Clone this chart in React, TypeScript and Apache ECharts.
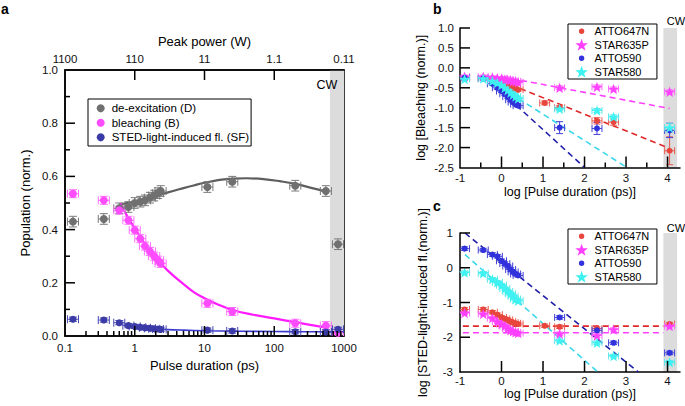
import React, { useEffect, useRef } from 'react';
import * as echarts from 'echarts';

const FONT = '"Liberation Sans", Arial, Helvetica, sans-serif';

// ---------- Panel a ----------
const A_DURATION = [0.13, 0.36, 0.6, 0.81, 1.0, 1.2, 1.4, 1.65, 1.9, 2.15, 2.35, 11, 25, 200, 550, 820];
const A_DEEXC = [0.43, 0.44, 0.48, 0.485, 0.5, 0.505, 0.51, 0.52, 0.528, 0.537, 0.545, 0.56, 0.58, 0.565, 0.545, 0.345];
const A_BLEACH = [0.535, 0.51, 0.473, 0.435, 0.398, 0.366, 0.338, 0.318, 0.3, 0.285, 0.273, 0.123, 0.092, 0.048, 0.039, 0.012];
const A_SF = [0.063, 0.06, 0.05, 0.039, 0.036, 0.033, 0.031, 0.029, 0.027, 0.026, 0.025, 0.022, 0.019, 0.016, 0.015, 0.025];
const A_ERR_D = 0.02;
const A_ERR_B = 0.015;
const A_ERR_SF = 0.008;
const A_XERR_FACTOR = 1.2;

const A_FIT_D_X = [0.62, 1, 1.5, 2, 3, 5, 7, 10, 15, 25, 40, 70, 120, 200, 350, 600];
const A_FIT_D = [0.495, 0.505, 0.515, 0.525, 0.54, 0.556, 0.566, 0.576, 0.585, 0.592, 0.593, 0.59, 0.582, 0.572, 0.556, 0.541];
const A_FIT_B_X = [0.62, 0.8, 1, 1.5, 2, 3, 5, 7, 10, 15, 25, 50, 100, 200, 400, 600];
const A_FIT_B = [0.5, 0.445, 0.405, 0.335, 0.293, 0.245, 0.195, 0.165, 0.142, 0.12, 0.098, 0.08, 0.066, 0.052, 0.038, 0.031];
const A_FIT_SF_X = [0.7, 1, 1.5, 2, 3, 5, 10, 30, 100, 300, 1000];
const A_FIT_SF = [0.04, 0.035, 0.03, 0.027, 0.024, 0.022, 0.02, 0.018, 0.017, 0.016, 0.016];
const A_CW_BAND = [630, 1000];
const A_NAMES = ['de-excitation (D)', 'bleaching (B)', 'STED-light-induced fl. (SF)'];

const A_X_MAJOR_TICKS = [1, 10, 100];
const A_X_MINOR_TICKS = [0.2, 0.3, 0.4, 0.5, 0.6, 0.7, 0.8, 0.9, 2, 3, 4, 5, 6, 7, 8, 9, 20, 30, 40, 50, 60, 70, 80, 90, 200, 300, 400, 500, 600, 700, 800, 900];
const A_Y_MAJOR_TICKS = [0.2, 0.4, 0.6, 0.8];
const A_Y_MINOR_TICKS = [0.1, 0.3, 0.5, 0.7, 0.9];

// ---------- Panels b and c (log10 pulse duration) ----------
const LOG_T = [-0.89, -0.44, -0.22, -0.1, 0, 0.08, 0.15, 0.22, 0.28, 0.34, 0.4, 1.04, 1.4, 2.3, 2.7, 4.05];
const DYES = ['ATTO647N', 'STAR635P', 'ATTO590', 'STAR580'];

const B_ATTO647N = [-0.25, -0.26, -0.3, -0.33, -0.36, -0.4, -0.43, -0.46, -0.5, -0.52, -0.55, -0.88, -1.0, -1.33, -1.36, -2.08];
const B_STAR635P = [-0.22, -0.22, -0.24, -0.26, -0.27, -0.29, -0.3, -0.31, -0.33, -0.34, -0.36, null, -0.5, -0.48, -0.53, -0.6];
const B_ATTO590 = [-0.25, -0.27, -0.4, -0.5, -0.58, -0.65, -0.72, -0.8, -0.86, -0.91, -0.95, null, -1.5, -1.52, null, -1.57];
const B_STAR580 = [-0.28, -0.27, -0.33, -0.38, -0.43, -0.5, -0.56, -0.62, -0.67, -0.72, -0.77, null, -1.03, -1.07, -1.23, -1.5];
const B_ERR_ATTO647N = [0.03, 0.03, 0.03, 0.03, 0.03, 0.03, 0.03, 0.03, 0.03, 0.03, 0.03, 0.05, 0.05, 0.08, 0.08, 0.35];
const B_ERR_STAR635P = [0.04, 0.04, 0.04, 0.04, 0.04, 0.04, 0.04, 0.04, 0.04, 0.04, 0.04, null, 0.05, 0.05, 0.05, 0.05];
const B_ERR_ATTO590 = [0.04, 0.04, 0.04, 0.04, 0.04, 0.04, 0.04, 0.04, 0.04, 0.04, 0.04, null, 0.15, 0.15, null, 0.18];
const B_ERR_STAR580 = [0.04, 0.04, 0.04, 0.04, 0.04, 0.04, 0.04, 0.04, 0.04, 0.04, 0.04, null, 0.05, 0.05, 0.05, 0.1];

const B_FIT_X_ATTO647N = [0, 4.05];
const B_FIT_ATTO647N = [-0.33, -2.02];
const B_FIT_X_STAR635P = [0, 4.05];
const B_FIT_STAR635P = [-0.22, -1.02];
const B_FIT_X_ATTO590 = [0, 2.0];
const B_FIT_ATTO590 = [-0.6, -2.5];
const B_FIT_X_STAR580 = [0, 3.02];
const B_FIT_STAR580 = [-0.5, -2.5];

const C_ATTO647N = [-1.2, -1.2, -1.28, -1.35, -1.43, -1.47, -1.5, -1.55, -1.58, -1.6, -1.62, -1.67, -1.7, -1.75, null, -1.62];
const C_STAR635P = [-1.3, -1.33, -1.45, -1.55, -1.62, -1.68, -1.75, -1.8, -1.83, -1.86, -1.88, null, -1.9, -1.95, -1.78, -1.68];
const C_ATTO590 = [0.55, 0.51, 0.38, 0.33, 0.2, 0.12, 0.05, -0.05, -0.12, -0.18, -0.22, null, -1.43, -1.8, -2.16, -2.45];
const C_STAR580 = [-0.14, -0.16, -0.33, -0.42, -0.5, -0.6, -0.68, -0.75, -0.82, -0.9, -0.95, null, -2.1, -2.16, -2.54, -2.72];
const C_ERR = 0.05;

const C_FIT_X_ATTO647N = [-0.93, 3.9];
const C_FIT_ATTO647N = [-1.68, -1.68];
const C_FIT_X_STAR635P = [-0.93, 3.9];
const C_FIT_STAR635P = [-1.87, -1.87];
const C_FIT_X_ATTO590 = [-0.88, 3.3];
const C_FIT_ATTO590 = [1.0, -3.0];
const C_FIT_X_STAR580 = [-0.88, 2.32];
const C_FIT_STAR580 = [0.38, -3.0];

const BC_XERR = 0.12;
const BC_CW_BAND = [3.9, 4.23];
const BC_X_MAJOR_TICKS = [0, 1, 2, 3, 4];
const B_X_MINOR_TICKS = [-0.5, 0.5, 1.5, 2.5, 3.5];
const B_Y_TICKS = [-2, -1.5, -1, -0.5, 0, 0.5, 1];
const C_Y_TICKS = [-2, -1, 0, 1];

// ---------- styles ----------
const STAR = 'path://M0,-10 L2.351,-3.236 L9.511,-3.09 L3.804,1.236 L5.878,8.09 L0,4 L-5.878,8.09 L-3.804,1.236 L-9.511,-3.09 L-2.351,-3.236 Z';
const SMALL_CIRCLE_ICON = 'path://M-10,-10 M10,10 M0,-4.5 A4.5,4.5 0 1 1 0,4.5 A4.5,4.5 0 1 1 0,-4.5 Z';
const DYE_COLORS = ['#e8453c', '#ff40ff', '#3232dc', '#3ef2f2'];
const DYE_ERR_COLORS = ['#ec5a52', '#ff6aff', '#4040d8', '#5ae6ea'];
const DYE_FIT_COLORS = ['#e02828', '#ff40ff', '#1e1eaa', '#3cd8ea'];
const DYE_SYMBOLS = ['circle', STAR, 'circle', STAR];
const DYE_SIZES = [6, 11, 6, 11];

const A_COLORS = ['#707070', '#ff4cff', '#3b3ba8'];
const A_ERR_COLORS = ['#7a7a7a', '#ff70ff', '#4646b4'];
const A_FIT_COLORS = ['#5e5e5e', '#ff1aff', '#3a3ad0'];

function pairs(xs: number[], ys: (number | null)[]) {
  const out: number[][] = [];
  xs.forEach((x, i) => {
    const y = ys[i];
    if (y !== null && y !== undefined) out.push([x, y]);
  });
  return out;
}

function errData(xs: number[], ys: (number | null)[], errs: (number | null)[] | number, logX: boolean, xe: number) {
  const out: number[][] = [];
  xs.forEach((x, i) => {
    const y = ys[i];
    if (y === null || y === undefined) return;
    const e = typeof errs === 'number' ? errs : (errs[i] ?? 0.04);
    const xl = logX ? x / xe : x - xe;
    const xh = logX ? x * xe : x + xe;
    out.push([x, y, xl, xh, y - e, y + e]);
  });
  return out;
}

function errSeries(name: string, data: number[][], color: string, xi: number, yi: number, cap: number) {
  return {
    type: 'custom',
    name,
    xAxisIndex: xi,
    yAxisIndex: yi,
    clip: true,
    silent: true,
    z: 3,
    data,
    renderItem: (params: any, api: any) => {
      const x = api.value(0);
      const y = api.value(1);
      const c = api.coord([x, y]);
      const l = api.coord([api.value(2), y]);
      const r = api.coord([api.value(3), y]);
      const b = api.coord([x, api.value(4)]);
      const t = api.coord([x, api.value(5)]);
      const st = { stroke: color, lineWidth: 1 };
      return {
        type: 'group',
        children: [
          { type: 'line', shape: { x1: l[0], y1: c[1], x2: r[0], y2: c[1] }, style: st },
          { type: 'line', shape: { x1: l[0], y1: c[1] - cap, x2: l[0], y2: c[1] + cap }, style: st },
          { type: 'line', shape: { x1: r[0], y1: c[1] - cap, x2: r[0], y2: c[1] + cap }, style: st },
          { type: 'line', shape: { x1: c[0], y1: b[1], x2: c[0], y2: t[1] }, style: st },
          { type: 'line', shape: { x1: c[0] - cap, y1: b[1], x2: c[0] + cap, y2: b[1] }, style: st },
          { type: 'line', shape: { x1: c[0] - cap, y1: t[1], x2: c[0] + cap, y2: t[1] }, style: st },
        ],
      };
    },
  };
}

function bandSeries(name: string, range: number[], xi: number, yi: number) {
  return {
    type: 'custom',
    name,
    xAxisIndex: xi,
    yAxisIndex: yi,
    silent: true,
    z: 0,
    data: [range],
    renderItem: (params: any, api: any) => {
      const cs = params.coordSys;
      const p0 = api.coord([api.value(0), 0]);
      const p1 = api.coord([api.value(1), 0]);
      return {
        type: 'rect',
        shape: { x: p0[0], y: cs.y, width: p1[0] - p0[0], height: cs.height },
        style: { fill: '#dcdcdc' },
      };
    },
  };
}

const mkLine = () => ({ show: true, onZero: false, lineStyle: { color: '#000', width: 1.5 } });
const lab = (margin: number, extra: any = {}) => ({ color: '#111', fontSize: 11.5, fontFamily: FONT, margin, ...extra });
const nameStyle = (size: number) => ({ color: '#000', fontSize: size, fontFamily: FONT });
const intLabel = (v: number) => (Math.abs(v - Math.round(v)) < 1e-9 ? String(Math.round(v)) : '');

export default function App() {
  const ref = useRef<HTMLDivElement>(null);

  useEffect(() => {
    document.body.style.margin = '0';
    if (!ref.current) return;
    const chart = echarts.init(ref.current, undefined, { renderer: 'svg' });

    const B_SETS = [B_ATTO647N, B_STAR635P, B_ATTO590, B_STAR580];
    const B_ERRS = [B_ERR_ATTO647N, B_ERR_STAR635P, B_ERR_ATTO590, B_ERR_STAR580];
    const B_FITX = [B_FIT_X_ATTO647N, B_FIT_X_STAR635P, B_FIT_X_ATTO590, B_FIT_X_STAR580];
    const B_FITY = [B_FIT_ATTO647N, B_FIT_STAR635P, B_FIT_ATTO590, B_FIT_STAR580];
    const C_SETS = [C_ATTO647N, C_STAR635P, C_ATTO590, C_STAR580];
    const C_FITX = [C_FIT_X_ATTO647N, C_FIT_X_STAR635P, C_FIT_X_ATTO590, C_FIT_X_STAR580];
    const C_FITY = [C_FIT_ATTO647N, C_FIT_STAR635P, C_FIT_ATTO590, C_FIT_STAR580];

    const A_SETS = [A_DEEXC, A_BLEACH, A_SF];
    const A_ERRS = [A_ERR_D, A_ERR_B, A_ERR_SF];
    const A_FX = [A_FIT_D_X, A_FIT_B_X, A_FIT_SF_X];
    const A_FY = [A_FIT_D, A_FIT_B, A_FIT_SF];
    const A_SIZES = [8, 8, 7];

    const series: any[] = [];
    series.push(bandSeries('bandA', A_CW_BAND, 0, 0));
    A_SETS.forEach((ys, k) => {
      series.push({
        type: 'line', name: 'fitA' + k, xAxisIndex: 0, yAxisIndex: 0, smooth: 0.4, symbol: 'none', silent: true, z: 2,
        data: pairs(A_FX[k], A_FY[k]), lineStyle: { color: A_FIT_COLORS[k], width: k === 2 ? 1.6 : 2.2 },
      });
      series.push(errSeries('errA' + k, errData(A_DURATION, ys, A_ERRS[k], true, A_XERR_FACTOR), A_ERR_COLORS[k], 0, 0, 4));
      series.push({
        type: 'scatter', name: A_NAMES[k], xAxisIndex: 0, yAxisIndex: 0, symbol: 'circle', symbolSize: A_SIZES[k], z: 4,
        data: pairs(A_DURATION, ys), itemStyle: { color: A_COLORS[k], opacity: 1 },
      });
    });
    series.push(bandSeries('bandB', BC_CW_BAND, 2, 1));
    DYES.forEach((name, k) => {
      series.push({
        type: 'line', name: 'fitB' + k, xAxisIndex: 2, yAxisIndex: 1, symbol: 'none', silent: true, z: 2,
        data: pairs(B_FITX[k], B_FITY[k]), lineStyle: { color: DYE_FIT_COLORS[k], width: 1.6, type: [6, 4] },
      });
    });
    DYES.forEach((name, k) => {
      series.push(errSeries('errB' + k, errData(LOG_T, B_SETS[k], B_ERRS[k], false, BC_XERR), DYE_ERR_COLORS[k], 2, 1, 3.5));
      series.push({
        type: 'scatter', name, xAxisIndex: 2, yAxisIndex: 1, symbol: DYE_SYMBOLS[k], symbolSize: DYE_SIZES[k], symbolKeepAspect: true, z: 4,
        data: pairs(LOG_T, B_SETS[k]), itemStyle: { color: DYE_COLORS[k], opacity: 1 },
      });
    });
    series.push(bandSeries('bandC', BC_CW_BAND, 3, 2));
    DYES.forEach((name, k) => {
      series.push({
        type: 'line', name: 'fitC' + k, xAxisIndex: 3, yAxisIndex: 2, symbol: 'none', silent: true, z: 2,
        data: pairs(C_FITX[k], C_FITY[k]), lineStyle: { color: DYE_FIT_COLORS[k], width: 1.6, type: [6, 4] },
      });
    });
    DYES.forEach((name, k) => {
      series.push(errSeries('errC' + k, errData(LOG_T, C_SETS[k], C_ERR, false, BC_XERR), DYE_ERR_COLORS[k], 3, 2, 3.5));
      series.push({
        type: 'scatter', name, xAxisIndex: 3, yAxisIndex: 2, symbol: DYE_SYMBOLS[k], symbolSize: DYE_SIZES[k], symbolKeepAspect: true, z: 4,
        data: pairs(LOG_T, C_SETS[k]), itemStyle: { color: DYE_COLORS[k], opacity: 1 },
      });
    });

    const dyeLegend = (top: number) => ({
      orient: 'vertical', left: 568, top, itemWidth: 16, itemHeight: 12, itemGap: 0,
      padding: [0.5, 7.7, 0.5, 7.3], borderColor: '#000', borderWidth: 1, selectedMode: false,
      textStyle: { color: '#000', fontSize: 11, lineHeight: 13.5, fontFamily: FONT },
      data: DYES.map((n, k) => ({ name: n, icon: DYE_SYMBOLS[k] === 'circle' ? SMALL_CIRCLE_ICON : STAR })),
    });

    const option: any = {
      animation: false,
      backgroundColor: '#fff',
      grid: [
        { left: 65, top: 70, width: 279, height: 266, show: true, borderColor: '#000', borderWidth: 1.5, backgroundColor: 'transparent' },
        { left: 460, top: 28, width: 220, height: 139.5 },
        { left: 460, top: 233, width: 220, height: 139 },
      ],
      legend: [
        {
          orient: 'vertical', left: 88, top: 99, itemWidth: 12, itemHeight: 8, itemGap: 0,
          padding: [2, 2, 1.5, 8.7], borderColor: '#000', borderWidth: 1, selectedMode: false,
          textStyle: { color: '#000', fontSize: 11.5, lineHeight: 14.5, fontFamily: FONT },
          data: A_NAMES.map((n) => ({ name: n, icon: 'circle' })),
        },
        dyeLegend(24),
        dyeLegend(229),
      ],
      xAxis: [
        {
          type: 'log', logBase: 10, gridIndex: 0, position: 'bottom', min: 0.1, max: 1000,
          axisLine: mkLine(), axisTick: { show: false },
          axisLabel: lab(6, { formatter: (v: number) => String(v) }), splitLine: { show: false },
          name: 'Pulse duration (ps)', nameLocation: 'middle', nameGap: 23, nameTextStyle: nameStyle(13),
        },
        {
          type: 'log', logBase: 10, gridIndex: 0, position: 'top', min: 0.1, max: 1000,
          axisLine: mkLine(), axisTick: { show: false },
          axisLabel: lab(5, { formatter: (v: number) => String(Number((110 / v).toPrecision(3))) }), splitLine: { show: false },
          name: 'Peak power (W)', nameLocation: 'middle', nameGap: 21, nameTextStyle: nameStyle(13),
        },
        {
          type: 'value', gridIndex: 1, position: 'bottom', min: -1, max: 4.3, interval: 1,
          axisLine: mkLine(), axisTick: { show: false },
          axisLabel: lab(4, { formatter: intLabel }), splitLine: { show: false },
          name: 'log [Pulse duration (ps)]', nameLocation: 'middle', nameGap: 18, nameTextStyle: nameStyle(12.5),
        },
        {
          type: 'value', gridIndex: 2, position: 'bottom', min: -1, max: 4.3, interval: 1,
          axisLine: mkLine(), axisTick: { show: false },
          axisLabel: lab(3, { formatter: intLabel }), splitLine: { show: false },
          name: 'log [Pulse duration (ps)]', nameLocation: 'middle', nameGap: 15, nameTextStyle: nameStyle(12.5),
        },
      ],
      yAxis: [
        {
          type: 'value', gridIndex: 0, min: 0, max: 1, interval: 0.2,
          axisLine: mkLine(), axisTick: { show: false },
          axisLabel: lab(7, { formatter: (v: number) => v.toFixed(1) }), splitLine: { show: false },
          name: 'Population (norm.)', nameLocation: 'middle', nameGap: 33, nameTextStyle: nameStyle(13),
        },
        {
          type: 'value', gridIndex: 1, min: -2.5, max: 1, interval: 0.5,
          axisLine: mkLine(), axisTick: { show: false },
          axisLabel: lab(6, { formatter: (v: number) => v.toFixed(1) }), splitLine: { show: false },
          name: 'log [Bleaching (norm.)]', nameLocation: 'middle', nameGap: 33, nameTextStyle: nameStyle(12.5),
        },
        {
          type: 'value', gridIndex: 2, min: -3, max: 1, interval: 1,
          axisLine: mkLine(), axisTick: { show: false },
          axisLabel: lab(7), splitLine: { show: false },
          name: 'log [STED-light-induced fl.(norm.)]', nameLocation: 'middle', nameGap: 31, nameTextStyle: nameStyle(12.5),
        },
      ],
      series,
    };

    chart.setOption(option);

    // Ticks and labels as graphic elements, positioned through the axis scales.
    const els: any[] = [];
    const tickStyle = { stroke: '#000', lineWidth: 1.5 };
    const xTicks = (xi: number, yi: number, values: number[], yAt: number, dir: number, len: number) => {
      values.forEach((v) => {
        const p = chart.convertToPixel({ xAxisIndex: xi, yAxisIndex: yi }, [v, yAt]) as number[];
        els.push({ type: 'line', z: 50, shape: { x1: p[0], y1: p[1], x2: p[0], y2: p[1] + dir * len }, style: tickStyle });
      });
    };
    const yTicks = (xi: number, yi: number, values: number[], xAt: number, len: number) => {
      values.forEach((v) => {
        const p = chart.convertToPixel({ xAxisIndex: xi, yAxisIndex: yi }, [xAt, v]) as number[];
        els.push({ type: 'line', z: 50, shape: { x1: p[0], y1: p[1], x2: p[0] + len, y2: p[1] }, style: tickStyle });
      });
    };
    xTicks(0, 0, A_X_MAJOR_TICKS, 0, -1, 10);
    xTicks(0, 0, A_X_MINOR_TICKS, 0, -1, 5);
    xTicks(0, 0, A_X_MAJOR_TICKS, 1, 1, 10);
    yTicks(0, 0, A_Y_MAJOR_TICKS, 0.1, 10);
    yTicks(0, 0, A_Y_MINOR_TICKS, 0.1, 5);
    xTicks(2, 1, BC_X_MAJOR_TICKS, -2.5, -1, 11);
    xTicks(2, 1, B_X_MINOR_TICKS, -2.5, -1, 5);
    yTicks(2, 1, B_Y_TICKS, -1, 10);
    xTicks(3, 2, BC_X_MAJOR_TICKS, -3, -1, 11);
    yTicks(3, 2, C_Y_TICKS, -1, 10);

    const texts = [
      { type: 'text', z: 100, left: 1, top: 2, style: { text: 'a', fontSize: 14, fontWeight: 'bold', fontFamily: FONT, fill: '#000' } },
      { type: 'text', z: 100, left: 433, top: 2, style: { text: 'b', fontSize: 14, fontWeight: 'bold', fontFamily: FONT, fill: '#000' } },
      { type: 'text', z: 100, left: 433, top: 199, style: { text: 'c', fontSize: 14, fontWeight: 'bold', fontFamily: FONT, fill: '#000' } },
      { type: 'text', z: 100, x: 327, y: 85, style: { text: 'CW', fontSize: 12.5, fontFamily: FONT, fill: '#000', align: 'center', verticalAlign: 'middle' } },
      { type: 'text', z: 100, x: 676, y: 21, style: { text: 'CW', fontSize: 11, fontFamily: FONT, fill: '#000', align: 'center', verticalAlign: 'middle' } },
      { type: 'text', z: 100, x: 676, y: 228, style: { text: 'CW', fontSize: 11, fontFamily: FONT, fill: '#000', align: 'center', verticalAlign: 'middle' } },
    ];

    chart.setOption({ graphic: [...texts, ...els] });
    return () => chart.dispose();
  }, []);

  return <div ref={ref} style={{ position: 'fixed', left: 0, top: 0, width: 685, height: 406, background: '#fff' }} />;
}
